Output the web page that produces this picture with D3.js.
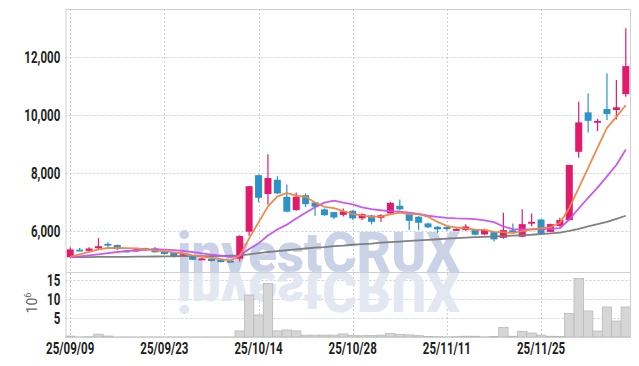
<!DOCTYPE html>
<html>
<head>
<meta charset="utf-8">
<script src="https://cdn.jsdelivr.net/npm/d3@7"></script>
<style>
  body { margin: 0; background: #fff; }
  svg { display: block; }
</style>
</head>
<body>
<svg id="chart" width="639" height="366"></svg>
<script>
// trading days, yy/mm/dd
const dates = [
  "25/09/09","25/09/10","25/09/11","25/09/12","25/09/15","25/09/16","25/09/17","25/09/18","25/09/19","25/09/22",
  "25/09/23","25/09/24","25/09/25","25/09/26","25/09/29","25/09/30","25/10/01","25/10/02","25/10/10","25/10/13",
  "25/10/14","25/10/15","25/10/16","25/10/17","25/10/20","25/10/21","25/10/22","25/10/23","25/10/24","25/10/27",
  "25/10/28","25/10/29","25/10/30","25/10/31","25/11/03","25/11/04","25/11/05","25/11/06","25/11/07","25/11/10",
  "25/11/11","25/11/12","25/11/13","25/11/14","25/11/17","25/11/18","25/11/19","25/11/20","25/11/21","25/11/24",
  "25/11/25","25/11/26","25/11/27","25/11/28","25/12/01","25/12/02","25/12/03","25/12/04","25/12/05","25/12/08"
];

const opens = [5100,5360,5320,5410,5560,5520,5330,5300,5410,5400,
  5300,5250,5140,5140,5010,5045,5010,4975,5050,5980,
  7930,7280,7770,7185,6725,7240,6990,6750,6655,6560,
  6700,6440,6540,6460,6610,6875,6585,6495,6265,6150,
  6140,6050,6035,6060,5885,5965,5770,6030,5805,6265,
  6400,5975,6180,6380,8735,10095,9740,10210,10175,10725];
const highs = [5440,5420,5440,5760,5620,5540,5340,5430,5430,5450,
  5310,5260,5240,5150,5070,5050,5010,4980,5860,7560,
  7950,8650,7890,7610,7335,7300,7000,6780,6670,6780,
  6720,6620,6560,6580,7000,7090,6620,6520,6290,6170,
  6160,6110,6240,6070,6080,5990,6630,6260,6750,6610,
  6410,6260,6460,8290,10460,10750,9870,11440,11210,13000];
const lows = [5090,5300,5300,5340,5450,5350,5260,5290,5320,5260,
  5190,5100,5130,5000,5000,4950,4920,4920,4950,5840,
  6990,6920,7280,6650,6700,6840,6530,6520,6420,6500,
  6380,6380,6230,6320,6590,6720,6035,6035,6100,5940,
  6020,6020,6010,5860,5860,5645,5740,5960,5790,6170,
  5900,5960,6150,6360,8530,9400,9450,9830,9850,10630];
const closes = [5370,5340,5400,5480,5500,5380,5300,5370,5360,5270,
  5210,5140,5200,5010,5055,4970,4935,4935,5830,7550,
  7150,7830,7300,6670,7185,6930,6840,6550,6470,6680,
  6440,6585,6320,6550,6975,6750,6355,6290,6130,6060,
  6070,6070,6160,5875,6045,5715,6035,5980,6240,6320,
  5920,6240,6380,8280,9750,9805,9800,10035,10270,11690];

// volume, millions of shares
const volumes = [0.25,0.03,0.08,0.75,0.25,0.03,0.03,0.03,0.03,0.03,
  0.03,0.03,0.03,0.03,0.03,0.03,0.03,0.03,1.6,11.05,
  5.8,14.1,1.6,1.85,1.6,0.5,0.5,0.5,0.5,0.8,
  0.4,0.35,0.4,0.5,0.95,0.7,0.55,0.35,0.15,0.1,
  0.05,0.1,0.2,0.2,0.05,0.15,2.55,0.2,1.5,1.05,
  0.5,0.2,0.15,6.2,15.4,6.85,1.55,7.9,4.2,7.9];

// moving averages
const ma5 = [5115,5200,5285,5370,5418,5420,5412,5406,5382,5336,
  5302,5270,5236,5166,5123,5075,5034,4981,5150,5750,
  6300,6850,7200,7310,7227,7183,6985,6835,6795,6688,
  6590,6539,6493,6509,6574,6636,6590,6584,6500,6317,
  6181,6124,6098,6047,6044,5973,5966,5930,6003,6058,
  6099,6140,6280,6800,7480,8180,8880,9560,9940,10340];
const ma10 = [5095,5130,5165,5200,5240,5280,5310,5335,5355,5377,
  5361,5341,5321,5274,5230,5189,5152,5109,5156,5384,
  5578,5847,6057,6223,6436,6632,6822,6984,7048,6980,
  6920,6820,6760,6720,6690,6670,6640,6590,6530,6490,
  6460,6440,6430,6410,6370,6310,6160,6070,6060,6060,
  6070,6080,6100,6400,6780,7150,7500,7890,8280,8817];
const ma60 = [5100,5100,5105,5110,5110,5115,5115,5120,5120,5125,
  5130,5130,5135,5135,5140,5140,5145,5150,5160,5200,
  5240,5280,5310,5340,5370,5400,5430,5450,5480,5500,
  5530,5550,5570,5600,5620,5640,5660,5680,5700,5720,
  5740,5760,5775,5790,5800,5815,5830,5845,5860,5875,
  5900,5920,5950,6010,6080,6160,6240,6320,6420,6530];

const priceTicks = [6000, 8000, 10000, 12000];
const volTicks = [5, 10, 15];
const dateTicks = ["25/09/09","25/09/23","25/10/14","25/10/28","25/11/11","25/11/25"];

const svg = d3.select("#chart");
const plotLeft = 65.5, plotRight = 630.5, plotTop = 9, priceBottom = 272, volBottom = 337;
const upColor = "#e3196b", downColor = "#2b93c8";
const gridColor = "#c9cde0", frameColor = "#cfcfcf";
const labelFont = "Roboto, 'Liberation Sans', sans-serif";

const x = d3.scaleBand().domain(dates).range([plotLeft, plotRight]);
const bw = x.bandwidth();
const cx = d => x(d) + bw / 2;
const y = d3.scaleLinear().domain([4590, 13660]).range([priceBottom, plotTop]);
const yv = d3.scaleLinear().domain([0, 17.1]).range([volBottom, priceBottom]);

// grid
const grid = svg.append("g").attr("stroke", gridColor).attr("stroke-dasharray", "2,2").attr("stroke-width", 1);
grid.selectAll(".hp").data(priceTicks).enter().append("line")
  .attr("x1", plotLeft).attr("x2", plotRight)
  .attr("y1", d => Math.round(y(d)) + 0.5).attr("y2", d => Math.round(y(d)) + 0.5);
grid.selectAll(".hv").data(volTicks).enter().append("line")
  .attr("x1", plotLeft).attr("x2", plotRight)
  .attr("y1", d => Math.round(yv(d)) + 0.5).attr("y2", d => Math.round(yv(d)) + 0.5);
grid.selectAll(".vx").data(dateTicks).enter().append("line")
  .attr("x1", d => Math.round(cx(d)) + 0.5).attr("x2", d => Math.round(cx(d)) + 0.5)
  .attr("y1", plotTop).attr("y2", volBottom);

// watermark and its mirrored copy under the divider
const defs = svg.append("defs");
defs.append("text").attr("id", "wm")
  .attr("x", 177).attr("y", priceBottom)
  .attr("font-family", "Roboto, sans-serif").attr("font-weight", 900).attr("font-size", 56)
  .attr("textLength", 283).attr("lengthAdjust", "spacingAndGlyphs")
  .text("investCRUX");
svg.append("use").attr("href", "#wm").attr("fill", "#cad2e8");
svg.append("use").attr("href", "#wm").attr("fill", "#e3e7f2")
  .attr("transform", `translate(0,${priceBottom * 2}) scale(1,-1)`);

// volume bars
svg.append("g").selectAll("rect").data(volumes).enter().append("rect")
  .attr("x", (d, i) => x(dates[i]))
  .attr("width", bw)
  .attr("y", d => yv(d))
  .attr("height", d => volBottom - yv(d))
  .attr("fill", "#d6d6d6")
  .attr("stroke", "#b9b9b9")
  .attr("stroke-width", 0.8);

// candles
const candles = svg.append("g").selectAll("g").data(dates).enter().append("g");
candles.append("line")
  .attr("x1", d => cx(d)).attr("x2", d => cx(d))
  .attr("y1", (d, i) => y(highs[i])).attr("y2", (d, i) => y(lows[i]))
  .attr("stroke", (d, i) => closes[i] >= opens[i] ? upColor : downColor)
  .attr("stroke-width", 1.2);
candles.append("rect")
  .attr("x", d => cx(d) - 3.5)
  .attr("width", 7)
  .attr("y", (d, i) => y(Math.max(opens[i], closes[i])))
  .attr("height", (d, i) => Math.max(1.8, Math.abs(y(opens[i]) - y(closes[i]))))
  .attr("fill", (d, i) => closes[i] >= opens[i] ? upColor : downColor);

// moving average lines
const line = d3.line().x((d, i) => cx(dates[i])).y(d => y(d));
[[ma60, "#7a7a7a"], [ma10, "#c850ef"], [ma5, "#ef8446"]].forEach(([s, c]) => {
  svg.append("path").datum(s).attr("d", line)
    .attr("fill", "none").attr("stroke", c).attr("stroke-width", 1.8)
    .attr("stroke-linejoin", "round").attr("opacity", 0.95);
});

// frame
const frame = svg.append("g").attr("stroke", frameColor).attr("stroke-width", 1);
frame.append("line").attr("x1", 66).attr("x2", 66).attr("y1", plotTop).attr("y2", volBottom);
frame.append("line").attr("x1", 630.5).attr("x2", 630.5).attr("y1", plotTop).attr("y2", volBottom);
[plotTop + 0.5, priceBottom + 0.5, volBottom + 0.5].forEach(v => {
  frame.append("line").attr("x1", 66).attr("x2", 630.5).attr("y1", v).attr("y2", v);
});

// axes
function styleAxis(g) {
  g.select(".domain").remove();
  g.selectAll("text")
    .attr("font-family", labelFont)
    .attr("font-weight", 700)
    .attr("font-size", 16)
    .attr("fill", "#1e1e1e")
    .attr("transform", "scale(0.72,1)");
}
svg.append("g").attr("transform", "translate(66,0)")
  .call(d3.axisLeft(y).tickValues(priceTicks).tickFormat(d3.format(",")).tickSize(0).tickPadding(8))
  .call(styleAxis);
svg.append("g").attr("transform", "translate(66,0)")
  .call(d3.axisLeft(yv).tickValues(volTicks).tickFormat(d3.format("d")).tickSize(0).tickPadding(8))
  .call(styleAxis);
svg.append("g").attr("transform", `translate(0,${volBottom})`)
  .call(d3.axisBottom(x).tickValues(dateTicks).tickSize(0).tickPadding(6))
  .call(styleAxis);

// volume unit
const unit = svg.append("text")
  .attr("transform", "translate(37,303) rotate(-90)")
  .attr("text-anchor", "middle")
  .attr("font-family", labelFont)
  .attr("font-size", 14)
  .attr("fill", "#666");
unit.append("tspan").text("10");
unit.append("tspan").attr("dy", -6).attr("font-size", 9).text("6");
</script>
</body>
</html>
